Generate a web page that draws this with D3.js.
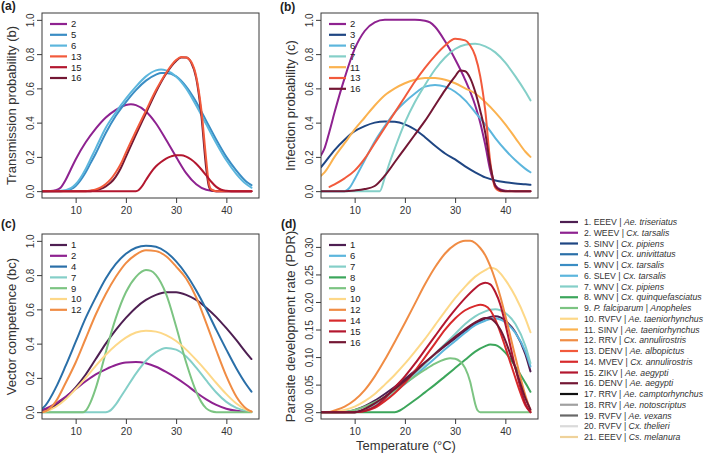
<!DOCTYPE html>
<html><head><meta charset="utf-8">
<script src="https://cdn.jsdelivr.net/npm/d3@7"></script>
<style>body{margin:0;background:#fff;} svg{display:block;font-family:"Liberation Sans",Arial,Helvetica,sans-serif;}</style>
</head><body><svg id="chart" width="709" height="459"></svg>
<script>
// ---------- legend / categories ----------
const colors = ["#4e1f52","#8e2290","#1f4683","#2a6fa8","#3a8dc4","#5cb6dd","#84cfc8","#3ca65b","#7cc482","#fdd888","#fbb24f","#f08c44","#f25a3c","#d72a2c","#b3172f","#731734","#111111","#a0a0a0","#686868","#dadada","#efd29a"];
const legendPathogen = ["EEEV","WEEV","SINV","WNV","WNV","SLEV","WNV","WNV","P. falciparum","RVFV","SINV","RRV","DENV","MVEV","ZIKV","DENV","RRV","RRV","RVFV","RVFV","EEEV"];
const legendVector = ["Ae. triseriatus","Cx. tarsalis","Cx. pipiens","Cx. univittatus","Cx. tarsalis","Cx. tarsalis","Cx. pipiens","Cx. quinquefasciatus","Anopheles","Ae. taeniorhynchus","Ae. taeniorhynchus","Cx. annulirostris","Ae. albopictus","Cx. annulirostris","Ae. aegypti","Ae. aegypti","Ae. camptorhynchus","Ae. notoscriptus","Ae. vexans","Cx. thelieri","Cs. melanura"];
const italicPathogen = [9];

const xTicks = [10,20,30,40];
const yTicksProb = [0,0.2,0.4,0.6,0.8,1.0];
const yTicksPDR = [0,0.05,0.10,0.15,0.20,0.25,0.30];

// ---------- (a) transmission probability b : [temperature, value] ----------
const a2 = [[3.3,0],[5,0.001],[6,0.005],[7,0.02],[8,0.065],[9,0.125],[10,0.185],[12,0.285],[14,0.365],[16,0.43],[18,0.475],[20,0.503],[21,0.507],[22,0.502],[24,0.465],[26,0.395],[28,0.3],[30,0.2],[32,0.105],[34,0.04],[36,0.008],[38,0],[45,0]];
const a5 = [[3.3,0],[6,0],[8,0.003],[10,0.03],[12,0.11],[13,0.165],[14,0.22],[16,0.34],[18,0.44],[20,0.52],[22,0.59],[24,0.645],[26,0.68],[27,0.69],[28,0.69],[30,0.67],[32,0.61],[34,0.52],[36,0.41],[38,0.3],[40,0.2],[42,0.12],[44,0.055],[45,0.035]];
const a6 = [[3.3,0],[6,0.001],[8,0.006],[10,0.04],[12,0.13],[13,0.19],[14,0.25],[16,0.37],[18,0.46],[20,0.54],[22,0.61],[24,0.67],[26,0.705],[27,0.71],[28,0.705],[30,0.67],[32,0.6],[34,0.5],[36,0.39],[38,0.28],[40,0.18],[42,0.1],[44,0.04],[45,0.02]];
const a13 = [[3.3,0],[12,0],[13,0.004],[14,0.01],[15,0.022],[16,0.042],[17,0.07],[18,0.11],[19,0.16],[20,0.225],[22,0.35],[24,0.47],[26,0.59],[28,0.69],[30,0.765],[31,0.783],[32,0.78],[33,0.755],[34,0.67],[35,0.48],[36,0.18],[36.5,0.05],[37,0.01],[38,0],[45,0]];
const a15 = [[3.3,0],[22,0],[22.5,0.005],[23,0.02],[24,0.065],[25,0.11],[26,0.145],[27,0.17],[28,0.19],[29,0.203],[30,0.21],[31,0.21],[32,0.202],[33,0.185],[34,0.16],[35,0.128],[36,0.092],[37,0.055],[38,0.025],[39,0.008],[40,0.002],[41,0],[45,0]];
const a16 = [[3.3,0],[13,0],[14,0.005],[15,0.013],[16,0.028],[17,0.05],[18,0.085],[19,0.135],[20,0.2],[22,0.33],[24,0.455],[26,0.58],[28,0.685],[30,0.76],[31,0.78],[32,0.78],[33,0.75],[34,0.66],[35,0.45],[36,0.13],[36.5,0.03],[37,0.005],[38,0],[45,0]];

// ---------- (b) infection probability c ----------
const b2 = [[3.3,0.21],[4,0.25],[5,0.35],[6,0.46],[8,0.66],[10,0.83],[12,0.935],[14,0.985],[16,1.0],[18,1.0],[20,1.0],[22,1.0],[24,0.995],[25,0.985],[26,0.96],[28,0.875],[30,0.77],[32,0.65],[34,0.5],[35,0.4],[36,0.27],[37,0.12],[38,0.035],[39,0.01],[40,0.003],[42,0],[45,0]];
const b3 = [[3.3,0.14],[4,0.165],[6,0.24],[8,0.3],[10,0.35],[12,0.38],[14,0.4],[16,0.407],[18,0.405],[20,0.39],[22,0.36],[24,0.315],[26,0.265],[28,0.22],[30,0.185],[32,0.145],[34,0.11],[36,0.08],[38,0.062],[40,0.052],[42,0.045],[44,0.04],[45,0.037]];
const b6 = [[3.3,0],[8,0],[9,0.02],[10,0.07],[12,0.18],[14,0.29],[16,0.38],[18,0.46],[20,0.52],[22,0.57],[24,0.61],[26,0.62],[28,0.61],[30,0.58],[32,0.53],[34,0.46],[36,0.39],[38,0.31],[40,0.24],[42,0.18],[44,0.13],[45,0.11]];
const b7 = [[3.3,0],[15,0],[16,0.08],[17,0.17],[18,0.25],[20,0.4],[22,0.52],[24,0.62],[26,0.71],[28,0.78],[30,0.83],[32,0.855],[34,0.86],[36,0.845],[38,0.81],[40,0.75],[42,0.67],[44,0.58],[45,0.53]];
const b11 = [[3.3,0.09],[4,0.11],[6,0.2],[8,0.28],[10,0.36],[12,0.43],[14,0.5],[16,0.56],[18,0.6],[20,0.63],[22,0.65],[24,0.66],[26,0.66],[28,0.65],[30,0.63],[32,0.6],[34,0.57],[36,0.52],[38,0.46],[40,0.39],[42,0.31],[44,0.23],[45,0.2]];
const b13 = [[5,0.025],[6,0.04],[8,0.075],[10,0.12],[12,0.19],[14,0.28],[16,0.37],[18,0.46],[20,0.55],[22,0.64],[24,0.72],[26,0.79],[28,0.85],[30,0.89],[32,0.88],[33,0.85],[34,0.79],[35,0.67],[36,0.47],[37,0.17],[38,0.02],[39,0],[45,0]];
const b16 = [[3.3,0],[8,0],[10,0.004],[12,0.012],[14,0.03],[16,0.09],[18,0.17],[20,0.25],[22,0.33],[24,0.41],[26,0.5],[28,0.59],[30,0.67],[31,0.705],[32,0.7],[33,0.66],[34,0.58],[35,0.47],[36,0.34],[37,0.15],[38,0.03],[39,0.005],[40,0],[45,0]];

// ---------- (c) vector competence bc ----------
const c1 = [[3.3,0.01],[4,0.015],[6,0.04],[8,0.085],[10,0.145],[12,0.22],[14,0.31],[16,0.4],[18,0.48],[20,0.55],[22,0.61],[24,0.655],[26,0.685],[28,0.7],[30,0.7],[32,0.685],[34,0.655],[36,0.61],[38,0.555],[40,0.49],[42,0.42],[44,0.345],[45,0.31]];
const c2 = [[3.3,0.012],[4,0.02],[6,0.05],[8,0.09],[10,0.135],[12,0.18],[14,0.22],[16,0.25],[18,0.275],[20,0.29],[22,0.293],[24,0.285],[26,0.265],[28,0.235],[30,0.2],[32,0.16],[34,0.115],[36,0.075],[38,0.042],[40,0.02],[42,0.008],[44,0.003],[45,0.002]];
const c4 = [[3.3,0.02],[4,0.04],[6,0.14],[8,0.27],[10,0.41],[12,0.55],[14,0.67],[16,0.78],[18,0.865],[20,0.925],[22,0.96],[24,0.972],[26,0.965],[28,0.935],[30,0.88],[32,0.805],[34,0.71],[36,0.6],[38,0.48],[40,0.365],[42,0.255],[44,0.16],[45,0.12]];
const c7 = [[3.3,0],[16,0],[16.5,0.003],[17,0.012],[18,0.045],[19,0.09],[20,0.135],[22,0.225],[24,0.3],[26,0.35],[28,0.375],[30,0.365],[32,0.325],[34,0.26],[36,0.185],[38,0.115],[40,0.06],[42,0.025],[44,0.007],[45,0.003]];
const c9 = [[3.3,0],[11.5,0],[12,0.008],[13,0.06],[14,0.14],[15,0.24],[16,0.35],[18,0.55],[20,0.7],[22,0.79],[24,0.83],[25,0.825],[26,0.8],[28,0.69],[30,0.5],[32,0.29],[34,0.12],[35,0.06],[36,0.022],[37,0.005],[38,0],[45,0]];
const c10 = [[3.3,0],[4,0.004],[6,0.03],[8,0.075],[10,0.135],[12,0.2],[14,0.27],[16,0.335],[18,0.39],[20,0.435],[22,0.465],[24,0.475],[26,0.47],[28,0.45],[30,0.415],[32,0.365],[34,0.305],[36,0.24],[38,0.17],[40,0.105],[42,0.05],[44,0.013],[45,0.004]];
const c12 = [[3.3,0],[4,0.005],[6,0.06],[8,0.17],[10,0.29],[12,0.43],[14,0.57],[16,0.69],[18,0.79],[20,0.87],[22,0.92],[24,0.945],[26,0.94],[28,0.91],[30,0.85],[32,0.78],[34,0.67],[36,0.52],[38,0.36],[40,0.21],[42,0.09],[44,0.02],[45,0.003]];

// ---------- (d) parasite development rate ----------
const d1 = [[3.3,0],[8,0],[10,0.004],[12,0.011],[14,0.021],[16,0.033],[18,0.046],[20,0.06],[22,0.075],[24,0.09],[26,0.105],[28,0.12],[30,0.134],[32,0.148],[34,0.16],[36,0.17],[37,0.173],[38,0.174],[39,0.172],[40,0.166],[42,0.145],[44,0.105],[45,0.074]];
const d6 = [[3.3,0],[10,0],[12,0.005],[14,0.013],[16,0.024],[18,0.037],[20,0.051],[22,0.066],[24,0.082],[26,0.098],[28,0.114],[30,0.129],[32,0.144],[34,0.158],[36,0.166],[37,0.169],[38,0.17],[39,0.168],[40,0.163],[42,0.144],[44,0.11],[45,0.083]];
const d7 = [[3.3,0],[10,0],[12,0.004],[14,0.012],[16,0.024],[18,0.038],[20,0.053],[22,0.07],[24,0.088],[26,0.106],[28,0.124],[30,0.142],[32,0.16],[34,0.174],[36,0.183],[37,0.186],[38,0.187],[39,0.185],[40,0.18],[42,0.16],[44,0.12],[45,0.089]];
const d8 = [[3.3,0],[18,0],[19,0.003],[20,0.009],[22,0.022],[24,0.036],[26,0.05],[28,0.065],[30,0.08],[32,0.095],[34,0.11],[36,0.12],[37,0.123],[38,0.122],[39,0.117],[40,0.108],[42,0.083],[44,0.053],[45,0.037]];
const d9 = [[3.3,0],[6,0],[8,0.001],[10,0.004],[12,0.01],[14,0.018],[16,0.028],[18,0.04],[20,0.052],[22,0.065],[24,0.077],[26,0.088],[28,0.096],[29,0.098],[30,0.097],[31,0.092],[32,0.08],[33,0.055],[33.5,0.035],[34,0.015],[34.5,0.003],[35,0],[45,0]];
const d10 = [[3.3,0],[6,0.001],[8,0.004],[10,0.01],[12,0.02],[14,0.033],[16,0.05],[18,0.068],[20,0.088],[22,0.11],[24,0.133],[26,0.158],[28,0.183],[30,0.207],[32,0.228],[34,0.246],[36,0.258],[37,0.262],[38,0.26],[39,0.252],[40,0.24],[42,0.21],[44,0.17],[45,0.145]];
const d12 = [[5,0],[6,0.003],[8,0.01],[10,0.022],[12,0.04],[14,0.065],[16,0.095],[18,0.128],[20,0.162],[22,0.197],[24,0.232],[26,0.263],[28,0.288],[30,0.304],[32,0.311],[33,0.311],[34,0.307],[35,0.298],[36,0.285],[37,0.265],[38,0.24],[39,0.21],[40,0.175],[42,0.1],[44,0.03],[45,0.003]];
const d14 = [[3.3,0],[10,0],[12,0.002],[14,0.008],[16,0.02],[18,0.035],[20,0.053],[22,0.075],[24,0.1],[26,0.125],[28,0.15],[30,0.17],[32,0.185],[34,0.193],[35,0.195],[36,0.193],[37,0.185],[38,0.168],[39,0.145],[40,0.118],[41,0.09],[42,0.062],[43,0.035],[44,0.012],[45,0]];
const d15 = [[3.3,0],[10,0],[12,0.002],[14,0.01],[16,0.025],[18,0.045],[20,0.065],[22,0.088],[24,0.113],[26,0.138],[28,0.163],[30,0.186],[32,0.207],[34,0.225],[35,0.232],[36,0.235],[37,0.232],[38,0.218],[39,0.195],[40,0.16],[41,0.12],[42,0.08],[43,0.045],[44,0.015],[45,0]];
const d16 = [[3.3,0],[10,0],[12,0.006],[14,0.016],[16,0.028],[18,0.042],[20,0.057],[22,0.073],[24,0.09],[26,0.106],[28,0.122],[30,0.137],[32,0.151],[34,0.163],[35,0.168],[36,0.171],[37,0.17],[38,0.163],[39,0.15],[40,0.13],[41,0.105],[42,0.08],[43,0.052],[44,0.025],[45,0.005]];

const panelAIds = [2,5,6,16,13,15], panelASeries = [a2,a5,a6,a16,a13,a15];
const panelBIds = [2,3,6,7,11,13,16], panelBSeries = [b2,b3,b6,b7,b11,b13,b16];
const panelCIds = [1,2,4,7,9,10,12], panelCSeries = [c1,c2,c4,c7,c9,c10,c12];
const panelDIds = [1,6,7,8,9,10,12,14,15,16], panelDSeries = [d1,d6,d7,d8,d9,d10,d12,d14,d15,d16];
const legendOrderA = [2,5,6,13,15,16];

// ---------- drawing ----------
const svg = d3.select("#chart");
const xDomain = [3.3, 46.5];
const panels = [
  {label:"(a)", lab:[1,10], title:"Transmission probability (b)", ids:panelAIds, legendIds:legendOrderA, series:panelASeries, box:{l:42,r:259,t:13,b:198}, yDom:[-0.04,1.04], yTicks:yTicksProb, fmt:d3.format(".1f")},
  {label:"(b)", lab:[280,11], title:"Infection probability (c)", ids:panelBIds, legendIds:panelBIds, series:panelBSeries, box:{l:321,r:538,t:13,b:198}, yDom:[-0.04,1.04], yTicks:yTicksProb, fmt:d3.format(".1f")},
  {label:"(c)", lab:[1,228], title:"Vector competence (bc)", ids:panelCIds, legendIds:panelCIds, series:panelCSeries, box:{l:42,r:259,t:234,b:419}, yDom:[-0.04,1.04], yTicks:yTicksProb, fmt:d3.format(".1f")},
  {label:"(d)", lab:[281,228], title:"Parasite development rate (PDR)", ids:panelDIds, legendIds:panelDIds, series:panelDSeries, box:{l:321,r:538,t:234,b:419}, yDom:[-0.0124,0.3234], yTicks:yTicksPDR, fmt:d3.format(".2f")}
];

panels.forEach(p => {
  const B = p.box;
  const x = d3.scaleLinear().domain(xDomain).range([B.l, B.r]);
  const y = d3.scaleLinear().domain(p.yDom).range([B.b, B.t]);
  const g = svg.append("g");

  const line = d3.line().x(d => x(d[0])).y(d => y(d[1])).curve(d3.curveMonotoneX);
  const clipId = "clip" + p.label.replace(/[()]/g,"");
  svg.append("clipPath").attr("id", clipId).append("rect")
    .attr("x", B.l).attr("y", B.t).attr("width", B.r-B.l).attr("height", B.b-B.t);
  const cg = g.append("g").attr("clip-path", `url(#${clipId})`);
  p.series.forEach((s, i) => {
    cg.append("path").attr("d", line(s)).attr("fill","none")
      .attr("stroke", colors[p.ids[i]-1]).attr("stroke-width", 2)
      .attr("stroke-linejoin","round").attr("stroke-linecap","round");
  });

  g.append("rect").attr("x", B.l).attr("y", B.t).attr("width", B.r-B.l).attr("height", B.b-B.t)
    .attr("fill","none").attr("stroke","#3a3a3a").attr("stroke-width",1);

  const xa = g.append("g").attr("transform", `translate(0,${B.b})`)
    .call(d3.axisBottom(x).tickValues(xTicks).tickSize(5).tickSizeOuter(0));
  xa.select(".domain").remove();
  xa.selectAll("line").attr("stroke","#3a3a3a");
  xa.selectAll("text").attr("font-size",10).attr("fill","#333").attr("font-family",null)
    .attr("y", 12).attr("dy","0.35em");

  const ya = g.append("g").attr("transform", `translate(${B.l},0)`)
    .call(d3.axisLeft(y).tickValues(p.yTicks).tickFormat(p.fmt).tickSize(5).tickSizeOuter(0));
  ya.select(".domain").remove();
  ya.selectAll("line").attr("stroke","#3a3a3a");
  ya.selectAll("text").attr("font-size",10).attr("fill","#333").attr("font-family",null)
    .attr("x", null).attr("dy","0.35em").attr("text-anchor","middle")
    .attr("transform","translate(-12,0) rotate(-90)");

  g.append("text").attr("transform", `translate(${B.l-31},${(B.t+B.b)/2}) rotate(-90)`)
    .attr("text-anchor","middle").attr("dy","0.35em").attr("font-size",13).attr("fill","#333")
    .text(p.title);

  g.append("text").attr("x", p.lab[0]).attr("y", p.lab[1]).attr("font-size",12)
    .attr("font-weight","bold").attr("fill","#222").text(p.label);

  const lg = g.append("g");
  p.legendIds.forEach((id, i) => {
    const yy = B.t + 11 + i*10.8;
    lg.append("line").attr("x1", B.l+8).attr("x2", B.l+25).attr("y1", yy).attr("y2", yy)
      .attr("stroke", colors[id-1]).attr("stroke-width", 2.2);
    lg.append("text").attr("x", B.l+29).attr("y", yy).attr("dy","0.35em")
      .attr("font-size",9.5).attr("fill","#222").text(id);
  });
});

svg.append("text").attr("x", 406).attr("y", 445).attr("dy","0.35em").attr("text-anchor","middle")
  .attr("font-size",13).attr("fill","#333").text("Temperature (°C)");

const rl = svg.append("g");
legendPathogen.forEach((pth, i) => {
  const yy = 222 + i*10.75;
  rl.append("line").attr("x1",560).attr("x2",578).attr("y1",yy).attr("y2",yy)
    .attr("stroke", colors[i]).attr("stroke-width",2.2);
  const t = rl.append("text").attr("x",584).attr("y",yy).attr("dy","0.35em")
    .attr("font-size",8.7).attr("fill","#333");
  t.append("tspan").text((i+1) + ". ");
  t.append("tspan").attr("font-style", italicPathogen.includes(i+1) ? "italic" : "normal").text(pth);
  t.append("tspan").text(" | ");
  t.append("tspan").attr("font-style","italic").text(legendVector[i]);
});
</script></body></html>
